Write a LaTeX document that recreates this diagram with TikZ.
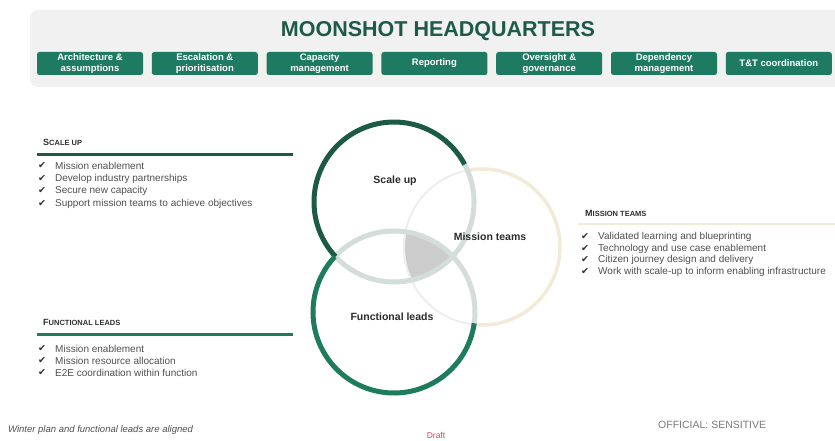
\documentclass[tikz,border=0pt]{standalone}
\usepackage{fontspec}
\setmainfont{Liberation Sans}
\newfontfamily\dejavu{DejaVu Sans}
\definecolor{panelgrey}{HTML}{F1F1F1}
\definecolor{titlegreen}{HTML}{1E5A49}
\definecolor{btngreen}{HTML}{1F7A62}
\definecolor{dkgreen}{HTML}{1C5A45}
\definecolor{flgreen}{HTML}{1E7B5D}
\definecolor{arcgrey}{HTML}{D4DDDA}
\definecolor{beige}{HTML}{F3EAD8}
\definecolor{faint}{HTML}{EEEEEE}
\definecolor{patchgrey}{HTML}{CCCCCC}
\definecolor{itemgrey}{HTML}{505050}
\definecolor{headgrey}{HTML}{2F2F2F}
\definecolor{labgrey}{HTML}{2B2B2B}
\definecolor{offgrey}{HTML}{7A7A7A}
\definecolor{draftred}{HTML}{D04A66}
\newcommand\mysc[2]{{\fontsize{9}{10}\selectfont #1}{\fontsize{7.5}{9}\selectfont #2}}
\begin{document}
\begin{tikzpicture}[x=1pt,y=-1pt,
  btn/.style={fill=btngreen, rounded corners=2.5pt, minimum width=106pt, minimum height=23pt,
    text=white, font=\bfseries\fontsize{9.5}{10.5}\selectfont, align=center, inner sep=0pt},
  item/.style={anchor=west, font=\fontsize{10}{11}\selectfont, text=itemgrey, inner sep=0pt},
  chk/.style={anchor=west, font=\dejavu\fontsize{9.5}{10}\selectfont, text=headgrey, inner sep=0pt},
  sechead/.style={anchor=west, font=\bfseries, text=headgrey, inner sep=0pt},
  circlab/.style={font=\bfseries\fontsize{10.5}{12}\selectfont, text=labgrey, inner sep=0pt}
]
\useasboundingbox (0,0) rectangle (835,441);
\clip (0,0) rectangle (835,441);
\fill[white] (0,0) rectangle (835,441);

% header panel
\fill[panelgrey, rounded corners=8pt] (30,10) rectangle (860,87);
\node[font=\bfseries\fontsize{21.5}{24}\selectfont, text=titlegreen] (title) at (438,31.5) {MOONSHOT HEADQUARTERS};

\node[btn] (b1) at (90,63.5) {Architecture \&\\assumptions};
\node[btn] (b2) at (204.8,63.5) {Escalation \&\\prioritisation};
\node[btn] (b3) at (319.6,63.5) {Capacity\\management};
\node[btn] (b4) at (434.4,63.5) {Reporting};
\node[btn] (b5) at (549.2,63.5) {Oversight \&\\governance};
\node[btn] (b6) at (664,63.5) {Dependency\\management};
\node[btn] (b7) at (778.8,63.5) {T\&T coordination};

% Venn diagram
\coordinate (cSU) at (394,202);
\coordinate (cFL) at (394,312);
\coordinate (cMT) at (482,247);
\begin{scope}
  \clip (cSU) circle[radius=80];
  \clip (cFL) circle[radius=81];
  \fill[patchgrey] (cMT) circle[radius=78];
\end{scope}
\draw[faint, line width=2pt] (cMT) ++(96:78) arc[start angle=96, end angle=257, radius=78];
\draw[beige, line width=3.5pt] (cMT) ++(-103:78) arc[start angle=-103, end angle=96, radius=78];
\draw[arcgrey, line width=5pt] (cSU) ++(-28:80) arc[start angle=-28, end angle=137, radius=80];
\draw[arcgrey, line width=5pt] (cFL) ++(223:81) arc[start angle=223, end angle=368, radius=81];
\draw[dkgreen, line width=5pt] (cSU) ++(137:80) arc[start angle=137, end angle=332, radius=80];
\draw[flgreen, line width=5pt] (cFL) ++(8:81) arc[start angle=8, end angle=223, radius=81];

\node[circlab] (lsu) at (395,181) {Scale up};
\node[circlab] (lmt) at (490,237) {Mission teams};
\node[circlab] (lfl) at (392,317) {Functional leads};

% Scale up section
\node[sechead] (suhead) at (43,142) {\mysc{S}{CALE UP}};
\draw[dkgreen, line width=3pt] (37,154) -- (293,154);
\foreach \y/\t [count=\i] in {166/Mission enablement, 178.5/Develop industry partnerships, 191/Secure new capacity, 203.5/Support mission teams to achieve objectives}{
  \node[chk] (suc\i) at (38,\y) {✔};
  \node[item] (sui\i) at (55,\y) {\t};
}

% Functional leads section
\node[sechead] (flhead) at (43,322) {\mysc{F}{UNCTIONAL LEADS}};
\draw[flgreen, line width=3pt] (37,334) -- (293,334);
\foreach \y/\t [count=\i] in {349/Mission enablement, 361/Mission resource allocation, 373/E2E coordination within function}{
  \node[chk] (flc\i) at (38,\y) {✔};
  \node[item] (fli\i) at (55,\y) {\t};
}

% Mission teams section
\node[sechead] (mthead) at (585,213) {\mysc{M}{ISSION TEAMS}};
\draw[beige, line width=2pt] (578,224) -- (835,224);
\foreach \y/\t [count=\i] in {237/Validated learning and blueprinting, 248.5/Technology and use case enablement, 260/Citizen journey design and delivery, 272/Work with scale-up to inform enabling infrastructure}{
  \node[chk] (mtc\i) at (581,\y) {✔};
  \node[item] (mti\i) at (598,\y) {\t};
}

% footer
\node[anchor=west, font=\itshape\fontsize{9.5}{11}\selectfont, text=itemgrey, inner sep=0pt] (note) at (8,430) {Winter plan and functional leads are aligned};
\node[font=\fontsize{8.5}{10}\selectfont, text=draftred, inner sep=0pt] (draft) at (436,435) {Draft};
\node[anchor=west, font=\fontsize{10.5}{12}\selectfont, text=offgrey, inner sep=0pt] (off) at (658,425) {OFFICIAL: SENSITIVE};
\end{tikzpicture}
\end{document}
